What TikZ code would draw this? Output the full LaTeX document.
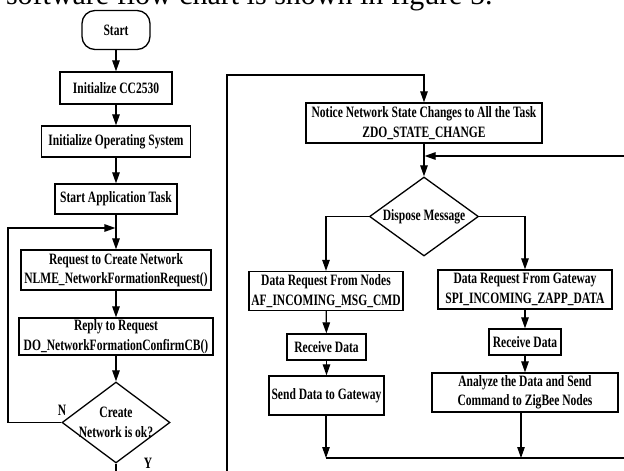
\documentclass[tikz,border=0pt]{standalone}
\usepackage{fontspec}
\setmainfont{Liberation Serif}
\newfontfamily\cf[FakeStretch=0.73]{Liberation Serif}
\usetikzlibrary{arrows.meta,shapes.geometric}
\begin{document}
\begin{tikzpicture}[x=1pt,y=-1pt,
  box/.style={draw,line width=1.3pt,inner sep=0pt,align=center,
    font=\cf\bfseries\fontsize{15.8}{19.5}\selectfont},
  dia/.style={draw,diamond,line width=1.3pt,inner sep=0pt},
  lab/.style={align=center,inner sep=0pt,font=\cf\bfseries\fontsize{15.8}{20}\selectfont},
  tag/.style={inner sep=0pt,font=\cf\bfseries\fontsize{15.8}{16}\selectfont},
  arr/.style={line width=1.2pt,-{Triangle[length=11pt,width=7.5pt]}},
  ln/.style={line width=1.2pt}]
\useasboundingbox (0,0) rectangle (624,471);
\clip (0,0) rectangle (624,471);
\fill[white] (0,0) rectangle (624,471);

\node[anchor=base west,inner sep=0pt,outer sep=0pt,font=\fontsize{30}{30}\selectfont] (cap) at (6,4.5) {software flow chart is shown in figure 5.};

% left column
\node[box,rounded corners=13pt,minimum width=68,minimum height=39] (start) at (116,30) {Start};
\node[box,minimum width=112,minimum height=32] (cc) at (116,88) {Initialize CC2530};
\node[box,minimum width=149,minimum height=31] (os) at (116,141.5) {Initialize Operating System};
\node[box,minimum width=122,minimum height=30] (app) at (116,199) {Start Application Task};
\node[box,minimum width=190,minimum height=40] (req) at (116,270) {Request to Create Network\\NLME\_NetworkFormationRequest()};
\node[box,minimum width=194,minimum height=37] (rep) at (116,336.5) {Reply to Request\\DO\_NetworkFormationConfirmCB()};
\node[dia,minimum width=108,minimum height=81,label={[lab]center:Create\\Network is ok?}] (dec) at (116,422.5) {};
\node[tag] (nlab) at (62,410) {N};
\node[tag] (ylab) at (148,463) {Y};

\coordinate (j1) at (116,228);
\coordinate (lp) at (8,228);
\coordinate (yb) at (116,490);
\coordinate (tl) at (227,75);

\draw[arr] (start) -- (cc);
\draw[arr] (cc) -- (os);
\draw[arr] (os) -- (app);
\draw[arr] (app) -- (req);
\draw[arr] (req) -- (rep);
\draw[arr] (rep) -- (dec);
\draw[arr,shorten >=0.6pt] (dec.west) -| (lp) -- (j1);

% right part
\node[box,minimum width=236,minimum height=40] (notice) at (424,123) {Notice Network State Changes to All the Task\\ZDO\_STATE\_CHANGE};
\node[dia,minimum width=109,minimum height=79,label={[lab]center:Dispose Message}] (disp) at (424,216.5) {};
\node[box,minimum width=154,minimum height=39] (dn) at (326,291) {Data Request From Nodes\\AF\_INCOMING\_MSG\_CMD};
\node[box,minimum width=79,minimum height=26] (rd1) at (326.5,347) {Receive Data};
\node[box,minimum width=115,minimum height=39] (sg) at (326.5,395.5) {Send Data to Gateway};
\node[box,minimum width=174,minimum height=39] (dg) at (525,289.5) {Data Request From Gateway\\SPI\_INCOMING\_ZAPP\_DATA};
\node[box,minimum width=72,minimum height=26] (rd2) at (525,342) {Receive Data};
\node[box,minimum width=186,minimum height=39] (ana) at (525,392.5) {Analyze the Data and Send\\Command to ZigBee Nodes};

\coordinate (j2) at (424,156);
\coordinate (b1) at (326,458);
\coordinate (b2) at (521,458);
\coordinate (br) at (640,458);

\draw[arr] (dec.south) -- (yb) -| (tl) -| (notice.north);
\draw[arr] (notice) -- (disp);
\draw[arr] (disp.west) -| (dn.north);
\draw[arr] (disp.east) -| (dg.north);
\draw[arr] (dn) -- (rd1);
\draw[arr] (rd1) -- (sg);
\draw[arr] (dg) -- (rd2);
\draw[arr] (rd2) -- (ana);
\draw[arr] (sg.south -| b1) -- (b1);
\draw[arr] (ana.south -| b2) -- (b2);
\draw[ln] (b1) -- (br);
\draw[arr,shorten >=0.6pt] (br) |- (j2);
\end{tikzpicture}
\end{document}
